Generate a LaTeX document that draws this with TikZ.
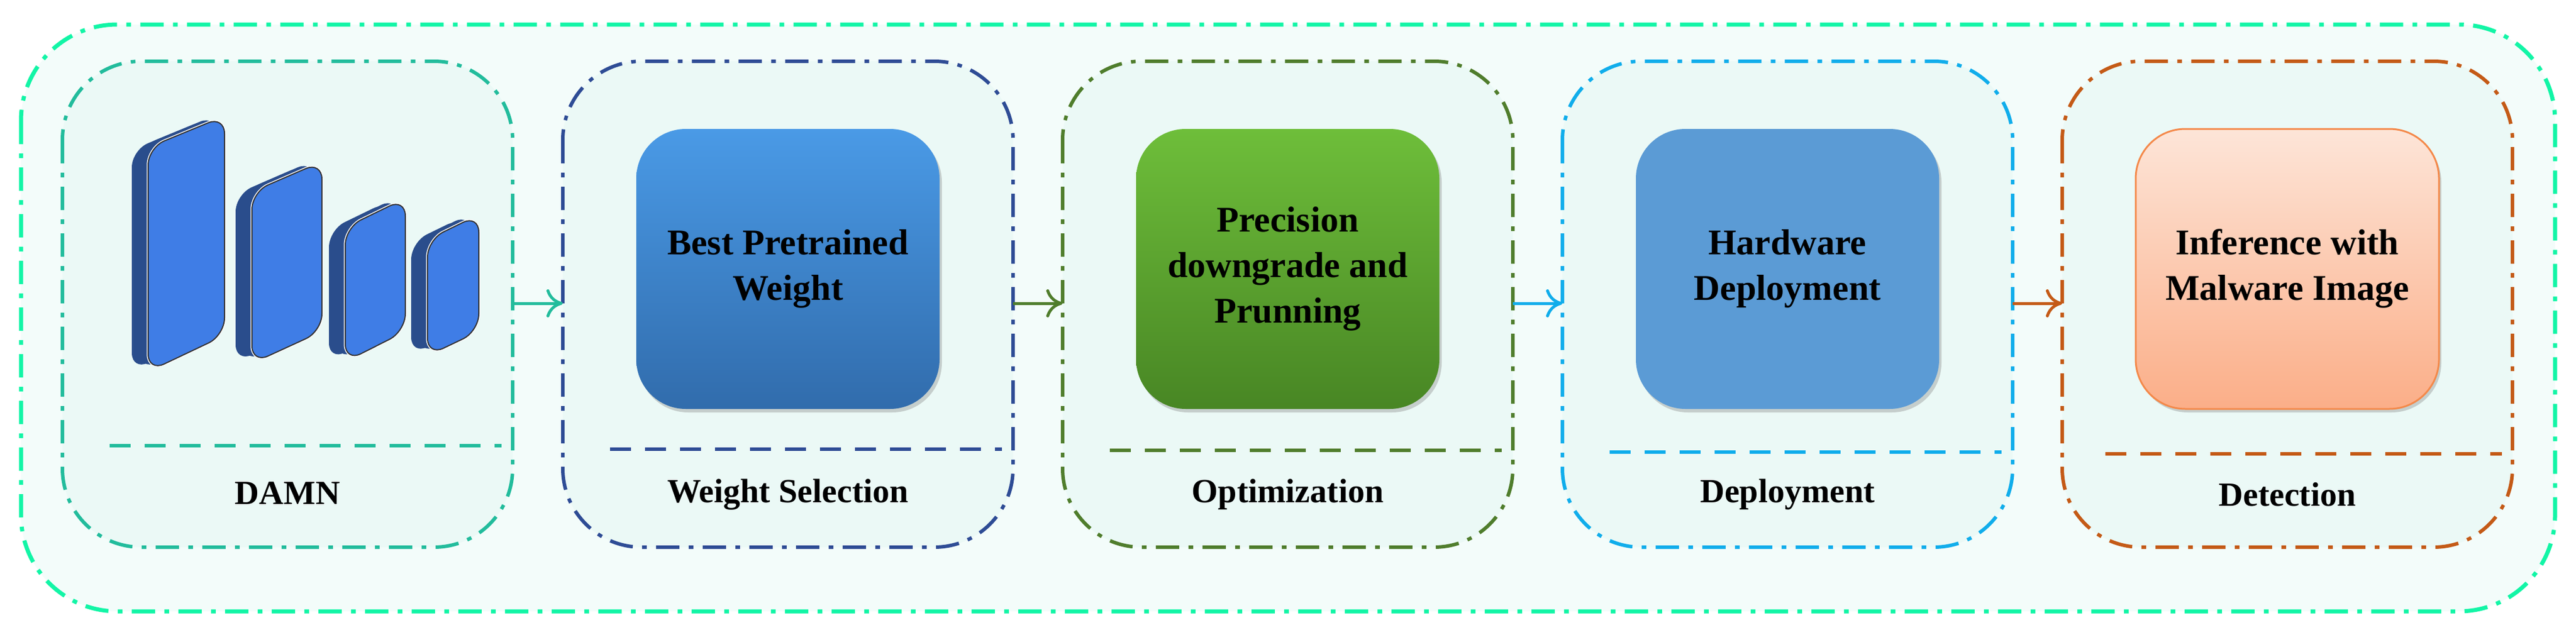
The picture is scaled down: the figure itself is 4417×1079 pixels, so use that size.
\documentclass[tikz,border=0pt]{standalone}
\usepackage{fontspec}
\setmainfont{Liberation Serif}
\usetikzlibrary{shadows,arrows.meta}
\definecolor{outerc}{HTML}{12F5A6}
\definecolor{outerf}{HTML}{F3FCFA}
\definecolor{panelf}{HTML}{EBF9F6}
\definecolor{c1}{HTML}{22BC9C}
\definecolor{c2}{HTML}{2E4C95}
\definecolor{c3}{HTML}{4F7D2C}
\definecolor{c4}{HTML}{10ADEB}
\definecolor{c5}{HTML}{C45A16}
\definecolor{barf}{HTML}{3F7DE6}
\definecolor{bard}{HTML}{2A4D8C}
\begin{document}
\begin{tikzpicture}[x=1pt,y=-1pt,
  panel/.style={draw=#1,line width=6pt,rounded corners=135pt,dash pattern=on 40pt off 16pt on 8pt off 16pt,fill=panelf},
  sep/.style={draw=#1,line width=6pt,dash pattern=on 36pt off 24pt},
  ibox/.style={rounded corners=85pt,minimum width=520pt,minimum height=480pt,drop shadow={opacity=0.35,shadow xshift=4pt,shadow yshift=-6pt},align=center,font=\fontsize{62}{78}\selectfont\bfseries},
  lab/.style={font=\fontsize{58}{70}\selectfont\bfseries},
  arr/.style={draw=#1,line width=5pt,-{To[length=28pt,width=48pt,line width=5pt]}},
  bar/.style={fill=barf,draw=black!80,line width=2pt,rounded corners=30pt},
  bard/.style={fill=bard,rounded corners=30pt}]
\useasboundingbox (0,0) rectangle (4417,1079);
\draw[draw=outerc,line width=7pt,rounded corners=165pt,dash pattern=on 40pt off 16pt on 8pt off 16pt,fill=outerf] (36,42) rectangle (4381,1048);
% panels
\path[panel=c1] (107,105) rectangle (879,938);
\path[panel=c2] (965,105) rectangle (1737,938);
\path[panel=c3] (1822,105) rectangle (2594,938);
\path[panel=c4] (2679,105) rectangle (3451,938);
\path[panel=c5] (3536,105) rectangle (4308,938);
\coordinate (p1r) at (879,520); \coordinate (p2l) at (965,520);
\coordinate (p2r) at (1737,520); \coordinate (p3l) at (1822,520);
\coordinate (p3r) at (2594,520); \coordinate (p4l) at (2679,520);
\coordinate (p4r) at (3451,520); \coordinate (p5l) at (3536,520);
\draw[arr=c1] (p1r) -- (p2l);
\draw[arr=c3] (p2r) -- (p3l);
\draw[arr=c4] (p3r) -- (p4l);
\draw[arr=c5] (p4r) -- (p5l);
% separators
\draw[sep=c1] (188,764) -- (860,764);
\draw[sep=c2] (1046,770) -- (1718,770);
\draw[sep=c3] (1903,772) -- (2575,772);
\draw[sep=c4] (2760,775) -- (3432,775);
\draw[sep=c5] (3610,778) -- (4290,778);
% labels
\node[lab] (l1) at (493,845) {DAMN};
\node[lab] (l2) at (1351,848) {Weight Selection};
\node[lab] (l3) at (2208,848) {Optimization};
\node[lab] (l4) at (3065,848) {Deployment};
\node[lab] (l5) at (3922,848) {Detection};
% inner boxes
\node[ibox,top color={rgb,255:red,74;green,154;blue,230},bottom color={rgb,255:red,49;green,108;blue,172}] (b2) at (1351,461) {Best Pretrained\\Weight};
\node[ibox,top color={rgb,255:red,110;green,190;blue,58},bottom color={rgb,255:red,72;green,134;blue,36}] (b3) at (2208,461) {Precision\\downgrade and\\Prunning};
\node[ibox,fill={rgb,255:red,91;green,155;blue,213}] (b4) at (3065,461) {Hardware\\Deployment};
\node[ibox,draw={rgb,255:red,244;green,137;blue,74},line width=3pt,top color={rgb,255:red,253;green,229;blue,216},bottom color={rgb,255:red,251;green,174;blue,136}] (b5) at (3922,461) {Inference with\\Malware Image};
% DAMN icon bars
\foreach \xl/\xr/\tl/\tr/\bl/\br in {254/385/253/199/637/575, 432/552/329/277/623/568, 592/695/390/340/620/568, 733/821/411/368/610/568}{
  \path[bard] (\xl-28,\tl+4) -- (\xr-28,\tr+4) -- (\xr-28,\br-2) -- (\xl-28,\bl-2) -- cycle;
  \path[bard] (\xl-14,\tl-2) -- (\xr-14,\tr-2) -- (\xr-14,\br-2) -- (\xl-14,\bl-2) -- cycle;
  \draw[bar,draw=white,line width=5pt] (\xl,\tl) -- (\xr,\tr) -- (\xr,\br) -- (\xl,\bl) -- cycle;
  \draw[bar] (\xl,\tl) -- (\xr,\tr) -- (\xr,\br) -- (\xl,\bl) -- cycle;
}
\end{tikzpicture}
\end{document}
